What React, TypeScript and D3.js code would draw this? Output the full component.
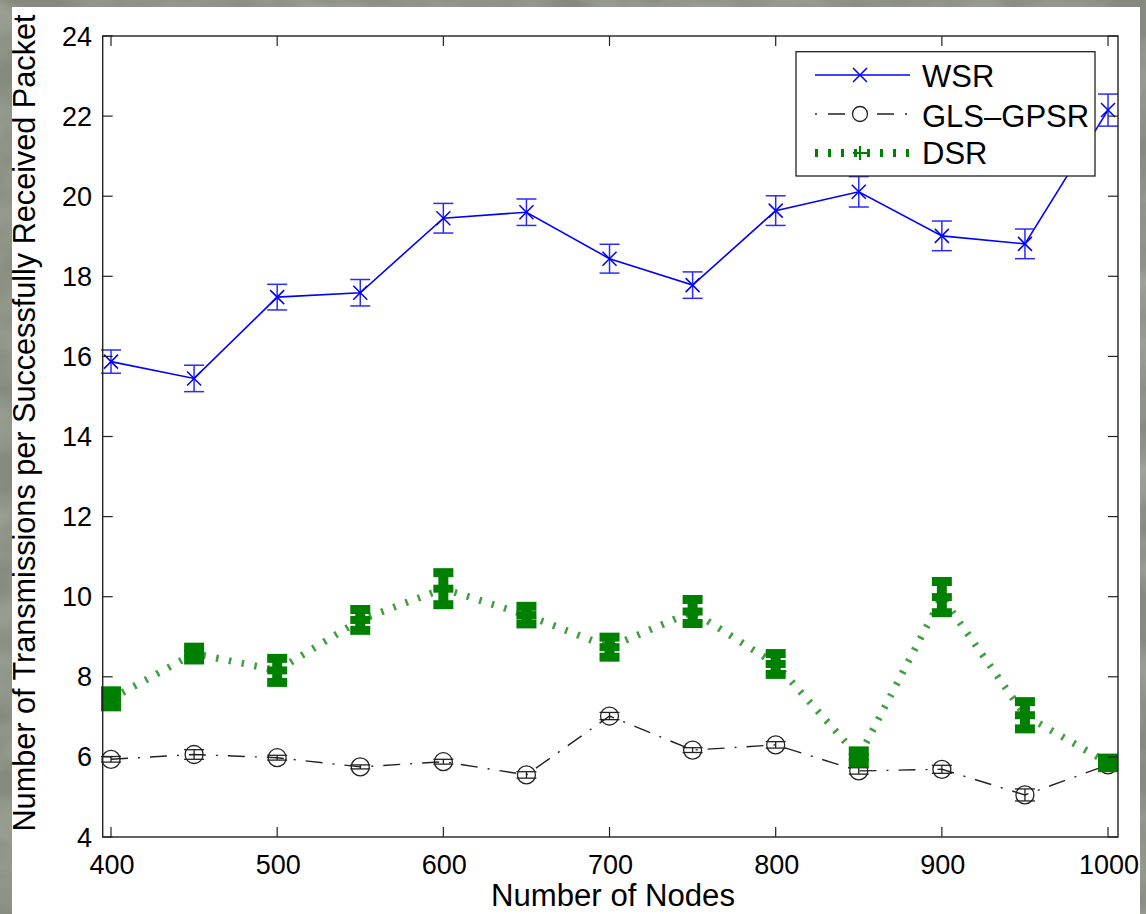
import React from "react";
import * as d3 from "d3";

const nodes = [400, 450, 500, 550, 600, 650, 700, 750, 800, 850, 900, 950, 1000];
const wsrMean = [15.87, 15.45, 17.48, 17.59, 19.45, 19.6, 18.44, 17.78, 19.64, 20.11, 19.01, 18.81, 22.15];
const wsrErr = [0.29, 0.33, 0.32, 0.33, 0.37, 0.33, 0.36, 0.33, 0.37, 0.38, 0.37, 0.37, 0.4];
const glsMean = [5.94, 6.06, 5.98, 5.75, 5.88, 5.55, 7.02, 6.17, 6.3, 5.65, 5.69, 5.05, 5.8];
const glsErr = [0.07, 0.12, 0.06, 0.05, 0.06, 0.08, 0.09, 0.06, 0.08, 0.08, 0.1, 0.15, 0.05];
const dsrMean = [7.45, 8.58, 8.16, 9.42, 10.2, 9.54, 8.74, 9.63, 8.32, 6.0, 9.99, 7.04, 5.85];
const dsrErr = [0.2, 0.16, 0.3, 0.26, 0.4, 0.22, 0.25, 0.3, 0.26, 0.15, 0.39, 0.34, 0.12];
const xTicks = [400, 500, 600, 700, 800, 900, 1000];
const yTicks = [4, 6, 8, 10, 12, 14, 16, 18, 20, 22, 24];
const seriesNames = ["WSR", "GLS\u2013GPSR", "DSR"];
const xTitle = "Number of Nodes";
const yTitle = "Number of Transmissions per Successfully Received Packet";

const W = 1146;
const H = 914;
const L = 102.7, R = 1118, T = 36, B = 837;
const FONT = "'Liberation Sans', Arial, Helvetica, sans-serif";

export default function App() {
  const x = d3.scaleLinear().domain([395, 1006]).range([L, R]);
  const y = d3.scaleLinear().domain([4, 24]).range([B, T]);
  const line = (vals: number[]) =>
    d3.line<number>().x((_, i) => x(nodes[i])).y((v) => y(v))(vals) || "";

  const blue = "#0000ff";
  const green = "#008000";
  const dark = "#222";

  return (
    <svg width={W} height={H} style={{ position: "absolute", left: 0, top: 0, display: "block" }}>
      <defs>
        <filter id="stone" x="0" y="0" width="100%" height="100%">
          <feTurbulence type="fractalNoise" baseFrequency="0.012 0.02" numOctaves="3" seed="7" />
          <feColorMatrix type="matrix" values="0 0 0 0 0.55  0 0 0 0 0.57  0 0 0 0 0.52  0 0 0 -1.6 1.1" />
        </filter>
      </defs>
      <rect x={0} y={0} width={W} height={H} fill="#858a7e" />
      <rect x={0} y={0} width={W} height={H} filter="url(#stone)" opacity={0.5} />
      <rect x={12} y={7} width={1128} height={H - 7} fill="#ffffff" />

      {/* WSR */}
      <g>
        <path d={line(wsrMean)} fill="none" stroke={blue} strokeWidth={1.6} />
        {nodes.map((n, i) => {
          const cx = x(n), top = y(wsrMean[i] + wsrErr[i]), bot = y(wsrMean[i] - wsrErr[i]);
          return (
            <g key={"w" + i} stroke="#2a2aff" strokeWidth={1.5}>
              <line x1={cx} x2={cx} y1={top} y2={bot} />
              <line x1={cx - 10} x2={cx + 10} y1={top} y2={top} />
              <line x1={cx - 10} x2={cx + 10} y1={bot} y2={bot} />
            </g>
          );
        })}
        {nodes.map((n, i) => {
          const cx = x(n), cy = y(wsrMean[i]), s = 7;
          return (
            <path key={"wm" + i} d={`M${cx - s},${cy - s}L${cx + s},${cy + s}M${cx - s},${cy + s}L${cx + s},${cy - s}`}
              stroke={blue} strokeWidth={1.5} />
          );
        })}
      </g>

      {/* GLS-GPSR */}
      <g>
        <path d={line(glsMean)} fill="none" stroke={dark} strokeWidth={1.4} strokeDasharray="17 10 2 10" />
        {nodes.map((n, i) => {
          const cx = x(n), top = y(glsMean[i] + glsErr[i]), bot = y(glsMean[i] - glsErr[i]);
          return (
            <g key={"g" + i} stroke={dark} strokeWidth={1.3}>
              <line x1={cx} x2={cx} y1={top} y2={bot} />
              <line x1={cx - 10} x2={cx + 10} y1={top} y2={top} />
              <line x1={cx - 10} x2={cx + 10} y1={bot} y2={bot} />
              <circle cx={cx} cy={y(glsMean[i])} r={9} fill="none" />
            </g>
          );
        })}
      </g>

      {/* DSR */}
      <g>
        <path d={line(dsrMean)} fill="none" stroke={green} strokeOpacity={0.75} strokeWidth={7} strokeDasharray="2.5 10.5" />
        {nodes.map((n, i) => {
          const cx = x(n), cy = y(dsrMean[i]), top = y(dsrMean[i] + dsrErr[i]), bot = y(dsrMean[i] - dsrErr[i]);
          return (
            <g key={"d" + i} stroke={green}>
              <line x1={cx} x2={cx} y1={top} y2={bot} strokeWidth={10} />
              <line x1={cx - 10} x2={cx + 10} y1={top} y2={top} strokeWidth={9} />
              <line x1={cx - 10} x2={cx + 10} y1={bot} y2={bot} strokeWidth={9} />
              <line x1={cx - 10} x2={cx + 10} y1={cy} y2={cy} strokeWidth={8} />
            </g>
          );
        })}
      </g>

      {/* axes box */}
      <rect x={L} y={T} width={R - L} height={B - T} fill="none" stroke={dark} strokeWidth={1.4} />
      {xTicks.map((t) => (
        <g key={"xt" + t}>
          <line x1={x(t)} x2={x(t)} y1={B} y2={B - 10} stroke={dark} strokeWidth={1.2} />
          <line x1={x(t)} x2={x(t)} y1={T} y2={T + 10} stroke={dark} strokeWidth={1.2} />
          <text x={x(t) + 1} y={874} textAnchor="middle" fontFamily={FONT} fontSize={27} fill="#000">{t}</text>
        </g>
      ))}
      {yTicks.map((t) => (
        <g key={"yt" + t}>
          <line x1={L} x2={L + 10} y1={y(t)} y2={y(t)} stroke={dark} strokeWidth={1.2} />
          <line x1={R} x2={R - 10} y1={y(t)} y2={y(t)} stroke={dark} strokeWidth={1.2} />
          <text x={92} y={y(t) + 9.5} textAnchor="end" fontFamily={FONT} fontSize={27} fill="#000">{t}</text>
        </g>
      ))}
      <text x={613} y={906} textAnchor="middle" fontFamily={FONT} fontSize={31} fill="#000"
        textLength={244} lengthAdjust="spacingAndGlyphs">{xTitle}</text>
      <text transform={`translate(35,${423}) rotate(-90)`} textAnchor="middle" fontFamily={FONT} fontSize={31} fill="#000"
        textLength={817} lengthAdjust="spacingAndGlyphs">{yTitle}</text>

      {/* legend */}
      <g>
        <rect x={796} y={51.7} width={299} height={124.3} fill="#fff" stroke={dark} strokeWidth={1.3} />
        <line x1={815} x2={910} y1={75} y2={75} stroke={blue} strokeWidth={1.6} />
        <path d={`M853,68L867,82M853,82L867,68`} stroke={blue} strokeWidth={1.5} />
        <line x1={815} x2={853} y1={114} y2={114} stroke={dark} strokeWidth={1.4} strokeDasharray="2 11 17 100" />
        <line x1={907} x2={867} y1={114} y2={114} stroke={dark} strokeWidth={1.4} strokeDasharray="2 11 17 100" />
        <circle cx={860} cy={114} r={7.5} fill="none" stroke={dark} strokeWidth={1.3} />
        <line x1={815} x2={912} y1={153} y2={153} stroke={green} strokeWidth={8} strokeDasharray="3 10" />
        <path d={`M853,153L867,153M860,146L860,160`} stroke={green} strokeWidth={2} />
        {seriesNames.map((s, i) => (
          <text key={s} x={922} y={[87, 127.3, 163.5][i]} fontFamily={FONT} fontSize={31} fill="#000">{s}</text>
        ))}
      </g>
    </svg>
  );
}
